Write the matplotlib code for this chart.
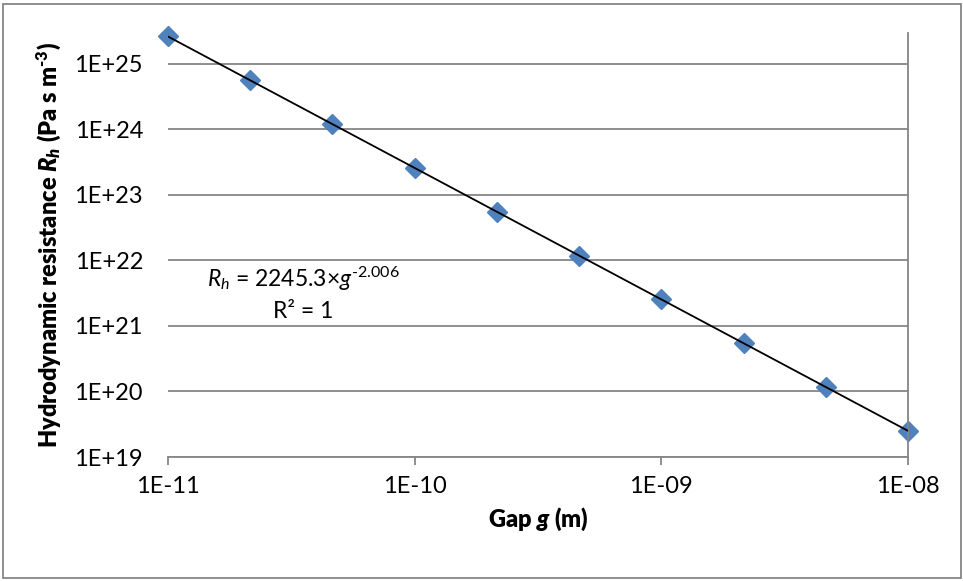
import matplotlib
matplotlib.use('Agg')
import matplotlib.pyplot as plt
import numpy as np
from matplotlib.patches import Rectangle

# ── data ──────────────────────────────────────────────────────────────────────
gap_m = [1e-11, 2.154e-11, 4.642e-11, 1e-10, 2.154e-10,
         4.642e-10, 1e-09, 2.154e-09, 4.642e-09, 1e-08]
rh = [2.61e25, 5.60e24, 1.20e24, 2.58e23, 5.52e22,
      1.18e22, 2.54e21, 5.45e20, 1.17e20, 2.51e19]
x_ticks = [1e-11, 1e-10, 1e-09, 1e-08]
x_labels = ["1E-11", "1E-10", "1E-09", "1E-08"]
y_ticks = [1e19, 1e20, 1e21, 1e22, 1e23, 1e24, 1e25]
y_labels = ["1E+19", "1E+20", "1E+21", "1E+22", "1E+23", "1E+24", "1E+25"]

FONT = 'Lato'
plt.rcParams['font.family'] = [FONT, 'DejaVu Sans']
plt.rcParams['mathtext.fontset'] = 'custom'
plt.rcParams['mathtext.rm'] = FONT
plt.rcParams['mathtext.it'] = FONT + ':italic'
plt.rcParams['mathtext.bf'] = FONT + ':heavy'
plt.rcParams['mathtext.bfit'] = FONT + ':heavy:italic'

GRID = '#868686'

fig = plt.figure(figsize=(9.63, 5.81), dpi=100)
ax = fig.add_axes([168 / 963, 1 - 457 / 581, 740 / 963, 424 / 581])

# power-law trendline from the points
coef = np.polyfit(np.log10(gap_m), np.log10(rh), 1)
xf = np.array([gap_m[0], gap_m[-1]])
ax.plot(xf, 10 ** np.polyval(coef, np.log10(xf)), color='black', lw=1.3, zorder=3)
ax.plot(gap_m, rh, linestyle='none', marker='D', ms=10.5,
        color='#4F81BD', mec='#4F81BD', zorder=2, clip_on=False)

ax.set_xscale('log')
ax.set_yscale('log')
ax.set_xlim(1e-11, 1e-08)
ax.set_ylim(1e19, 10 ** 25.47)

ax.set_xticks(x_ticks)
ax.set_xticklabels(x_labels)
ax.set_yticks(y_ticks)
ax.set_yticklabels(y_labels)
ax.minorticks_off()
ax.tick_params(axis='x', length=6, width=1.3, color=GRID, pad=8, labelsize=17)
ax.tick_params(axis='y', length=0, pad=18, labelsize=17)

for yv in y_ticks:
    ax.axhline(yv, color=GRID, lw=1.3, zorder=1)

for side in ['left', 'top']:
    ax.spines[side].set_visible(False)
for side in ['bottom', 'right']:
    ax.spines[side].set_color(GRID)
    ax.spines[side].set_linewidth(1.3)

ax.set_xlabel(r'Gap $\mathbfit{g}$ (m)', fontsize=17, fontweight='heavy', labelpad=6)
ax.set_ylabel('Hydrodynamic resistance $\\mathbfit{R}_{\\mathbfit{h}}$ (Pa s m$^{\\mathbf{\u20103}}$)',
              fontsize=17, fontweight='heavy', labelpad=8)

ax.text(303 / 963, 1 - 279 / 581,
        '$\\mathit{R}_{\\mathit{h}}$ = 2245.3\u00d7$\\mathit{g}^{\\mathrm{\u20102.006}}$',
        transform=fig.transFigure, ha='center', va='center', fontsize=16.5)
ax.text(303 / 963, 1 - 312 / 581, 'R² = 1',
        transform=fig.transFigure, ha='center', va='center', fontsize=16.5)

# outer chart border
fig.patches.append(Rectangle((3 / 963, 3 / 581), 958 / 963, 574 / 581,
                             transform=fig.transFigure, fill=False,
                             edgecolor=GRID, lw=1.3))

fig.savefig('out.png', dpi=100, facecolor='white')
